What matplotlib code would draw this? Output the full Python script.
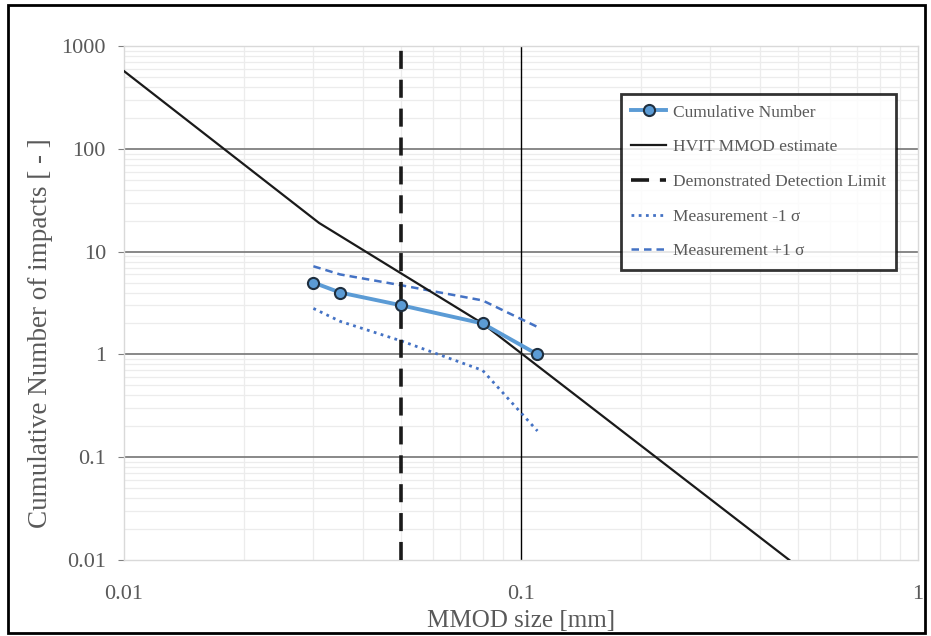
import matplotlib
matplotlib.use("Agg")
import matplotlib.pyplot as plt
from matplotlib.ticker import FixedLocator, FixedFormatter, LogLocator, NullFormatter
from matplotlib.patches import Rectangle

# Data
size_mm = [0.03, 0.035, 0.05, 0.08, 0.11]
cumulative = [5, 4, 3, 2, 1]
meas_minus = [2.8, 2.1, 1.35, 0.7, 0.18]
meas_plus = [7.2, 6.0, 4.7, 3.35, 1.85]

hvit_x = [0.01, 0.031, 0.08, 0.474]
hvit_y = [570, 19, 2.0, 0.01]

detect_x = [0.05, 0.05]
detect_y = [0.01, 1000]

x_ticks = [0.01, 0.1, 1]
x_ticklabels = ["0.01", "0.1", "1"]
y_ticks = [0.01, 0.1, 1, 10, 100, 1000]
y_ticklabels = ["0.01", "0.1", "1", "10", "100", "1000"]

plt.rcParams['font.family'] = ['Liberation Serif', 'DejaVu Serif']

fig = plt.figure(figsize=(9.31, 6.36), dpi=100)
ax = fig.add_axes([124/931, 1-560/636, (918-124)/931, (560-46)/636])

ax.set_xscale('log')
ax.set_yscale('log')
ax.set_xlim(0.01, 1)
ax.set_ylim(0.01, 1000)

# minor grid
ax.xaxis.set_minor_locator(LogLocator(base=10, subs=range(2, 10)))
ax.yaxis.set_minor_locator(LogLocator(base=10, subs=range(2, 10)))
ax.xaxis.set_minor_formatter(NullFormatter())
ax.yaxis.set_minor_formatter(NullFormatter())
ax.grid(which='minor', color='#ececec', linewidth=0.9)
ax.set_axisbelow(True)

# major gridlines
for yv in y_ticks[1:]:
    ax.axhline(yv, color='#7f7f7f', linewidth=1.3, zorder=1)
ax.axvline(0.1, color='black', linewidth=1.0, zorder=1)

for s in ax.spines.values():
    s.set_color('#d9d9d9')
    s.set_linewidth(1.0)

ax.xaxis.set_major_locator(FixedLocator(x_ticks))
ax.xaxis.set_major_formatter(FixedFormatter(x_ticklabels))
ax.yaxis.set_major_locator(FixedLocator(y_ticks))
ax.yaxis.set_major_formatter(FixedFormatter(y_ticklabels))
ax.tick_params(axis='x', which='major', length=0, pad=18, labelsize=16, labelcolor='#595959')
ax.tick_params(axis='y', which='major', length=4, color='#808080', pad=9, labelsize=16, labelcolor='#595959')
ax.tick_params(which='minor', length=0)

# series
ax.plot(size_mm, cumulative, color='#5b9bd5', linewidth=2.8, marker='o', markersize=8,
        markerfacecolor='#5b9bd5', markeredgecolor='#1f2f3f', markeredgewidth=1.5,
        label='Cumulative Number', zorder=5)
ax.plot(hvit_x, hvit_y, color='#1a1a1a', linewidth=1.6, label='HVIT MMOD estimate', zorder=4)
ax.plot(detect_x, detect_y, color='#1a1a1a', linewidth=2.6, linestyle=(0, (5, 3)),
        label='Demonstrated Detection Limit', zorder=4)
ax.plot(size_mm, meas_minus, color='#4472c4', linewidth=2.0, linestyle=(0, (1, 1.6)),
        label='Measurement -1 σ', zorder=3)
ax.plot(size_mm, meas_plus, color='#4472c4', linewidth=1.8, linestyle=(0, (3, 2)),
        label='Measurement +1 σ', zorder=3)

ax.set_xlabel('MMOD size [mm]', fontsize=18, color='#595959', labelpad=4)
fig.text(41/931, 1-333/636, 'Cumulative Number of impacts [ - ]', rotation=90,
         ha='center', va='center', fontsize=19.5, color='#595959')

leg = ax.legend(loc='upper left', bbox_to_anchor=((621-124)/794, (560-94)/514),
                fontsize=12.5, frameon=True, fancybox=False, edgecolor='black',
                handlelength=2.0, handletextpad=0.4, labelspacing=1.07,
                borderpad=0.6, borderaxespad=0)
leg.get_frame().set_linewidth(2.0)
for t in leg.get_texts():
    t.set_color('#595959')

# outer border
fig.patches.append(Rectangle((8/931, 3/636), (925-8)/931, (631-3)/636, transform=fig.transFigure,
                             fill=False, edgecolor='black', linewidth=2.0))

fig.savefig('out.png', dpi=100)
